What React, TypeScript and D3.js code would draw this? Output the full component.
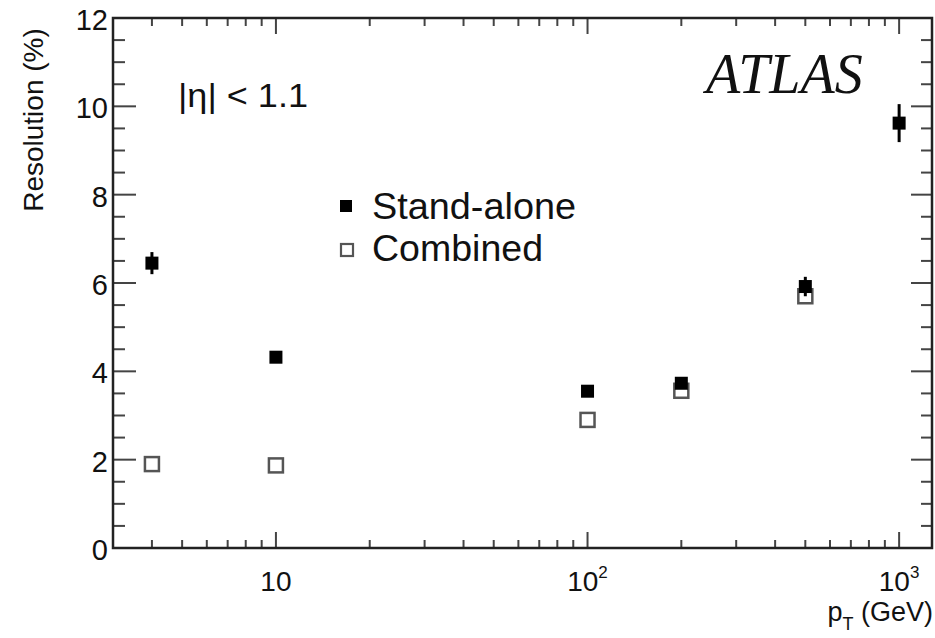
import React from "react";
import * as d3 from "d3";

const ptValues = [4, 10, 100, 200, 500, 1000];
const standAlone = [6.45, 4.32, 3.55, 3.73, 5.92, 9.62];
const standAloneErr = [0.25, 0.06, 0.06, 0.12, 0.22, 0.43];
const combinedPt = [4, 10, 100, 200, 500];
const combined = [1.9, 1.87, 2.9, 3.56, 5.7];
const combinedErr = [0.04, 0.04, 0.05, 0.06, 0.08];
const yMajorTicks = [0, 2, 4, 6, 8, 10, 12];
const xMajorTicks = [10, 100, 1000];
const xTickLabels = [
  { base: "10", exp: "" },
  { base: "10", exp: "2" },
  { base: "10", exp: "3" },
];

const W = 935;
const H = 638;
const L = 113, R = 932, T = 18, B = 548;

export default function App() {
  const x = d3.scaleLog().domain([3, 1275]).range([L, R]);
  const y = d3.scaleLinear().domain([0, 12]).range([B, T]);

  const xMinor: number[] = [];
  for (const dec of [1, 10, 100, 1000]) {
    for (let k = 2; k <= 9; k++) {
      const v = k * dec;
      if (v > 3 && v < 1275 && !xMajorTicks.includes(v)) xMinor.push(v);
    }
  }
  const yMinor = d3.range(0, 12.001, 0.5).filter((v) => !yMajorTicks.includes(v));

  const font = "Liberation Sans, Arial, Helvetica, sans-serif";
  const tickColor = "#444";

  return (
    <svg width={W} height={H} style={{ position: "absolute", left: 0, top: 0, background: "#fff" }} fontFamily={font}>
      <rect x={0} y={0} width={W} height={H} fill="#fff" />
      {/* ticks */}
      <g stroke={tickColor} strokeWidth={2}>
        {yMajorTicks.map((v) => (
          <g key={"ym" + v}>
            <line x1={L} x2={L + 23} y1={y(v)} y2={y(v)} />
            <line x1={R} x2={R - 21} y1={y(v)} y2={y(v)} />
          </g>
        ))}
        {yMinor.map((v) => (
          <g key={"yn" + v}>
            <line x1={L} x2={L + 12} y1={y(v)} y2={y(v)} />
            <line x1={R} x2={R - 11} y1={y(v)} y2={y(v)} />
          </g>
        ))}
        {xMajorTicks.map((v) => (
          <g key={"xm" + v}>
            <line x1={x(v)} x2={x(v)} y1={B} y2={B - 16} />
            <line x1={x(v)} x2={x(v)} y1={T} y2={T + 16} />
          </g>
        ))}
        {xMinor.map((v) => (
          <g key={"xn" + v}>
            <line x1={x(v)} x2={x(v)} y1={B} y2={B - 8} />
            <line x1={x(v)} x2={x(v)} y1={T} y2={T + 8} />
          </g>
        ))}
      </g>
      {/* frame */}
      <rect x={L} y={T} width={R - L} height={B - T} fill="none" stroke="#222" strokeWidth={2.5} />

      {/* y tick labels */}
      {yMajorTicks.map((v) => (
        <text key={"yl" + v} x={108} y={y(v) + 12} textAnchor="end" fontSize={29} fill="#111">
          {v}
        </text>
      ))}
      {/* x tick labels */}
      {xMajorTicks.map((v, i) => (
        <text key={"xl" + v} x={x(v)} y={591} textAnchor="middle" fontSize={28} fill="#111">
          {xTickLabels[i].base}
          {xTickLabels[i].exp && (
            <tspan fontSize={17} dy={-13}>
              {xTickLabels[i].exp}
            </tspan>
          )}
        </text>
      ))}
      {/* axis titles */}
      <text transform={`translate(43,120) rotate(-90)`} textAnchor="middle" fontSize={28} fill="#111">
        Resolution (%)
      </text>
      <text x={933} y={621} textAnchor="end" fontSize={27} fill="#111">
        p
        <tspan fontSize={18} dy={9}>T</tspan>
        <tspan dy={-9}> (GeV)</tspan>
      </text>

      {/* annotations */}
      <text x={178} y={107} fontSize={33} fill="#111" textLength={130} lengthAdjust="spacingAndGlyphs">
        |η| &lt; 1.1
      </text>
      <text x={706} y={93} fontSize={56} fontStyle="italic" fontFamily="Liberation Serif, DejaVu Serif, serif" fill="#111">
        ATLAS
      </text>

      {/* legend */}
      <rect x={340} y={200} width={12} height={12} fill="#000" />
      <text x={372} y={219} fontSize={37} fill="#111" textLength={204} lengthAdjust="spacingAndGlyphs">
        Stand-alone
      </text>
      <rect x={341} y={244} width={12} height={12} fill="#fff" stroke="#555" strokeWidth={2.2} />
      <text x={372} y={261} fontSize={37} fill="#111" textLength={171} lengthAdjust="spacingAndGlyphs">
        Combined
      </text>

      {/* combined points */}
      {combinedPt.map((p, i) => (
        <g key={"c" + p}>
          <line x1={x(p)} x2={x(p)} y1={y(combined[i] - combinedErr[i])} y2={y(combined[i] + combinedErr[i])} stroke="#555" strokeWidth={3} />
          <rect x={x(p) - 7} y={y(combined[i]) - 7} width={14} height={14} fill="#fff" stroke="#555" strokeWidth={2.5} />
        </g>
      ))}
      {/* stand-alone points */}
      {ptValues.map((p, i) => (
        <g key={"s" + p}>
          <line x1={x(p)} x2={x(p)} y1={y(standAlone[i] - standAloneErr[i])} y2={y(standAlone[i] + standAloneErr[i])} stroke="#000" strokeWidth={3} />
          <rect x={x(p) - 6.5} y={y(standAlone[i]) - 6.5} width={13} height={13} fill="#000" />
        </g>
      ))}
    </svg>
  );
}
